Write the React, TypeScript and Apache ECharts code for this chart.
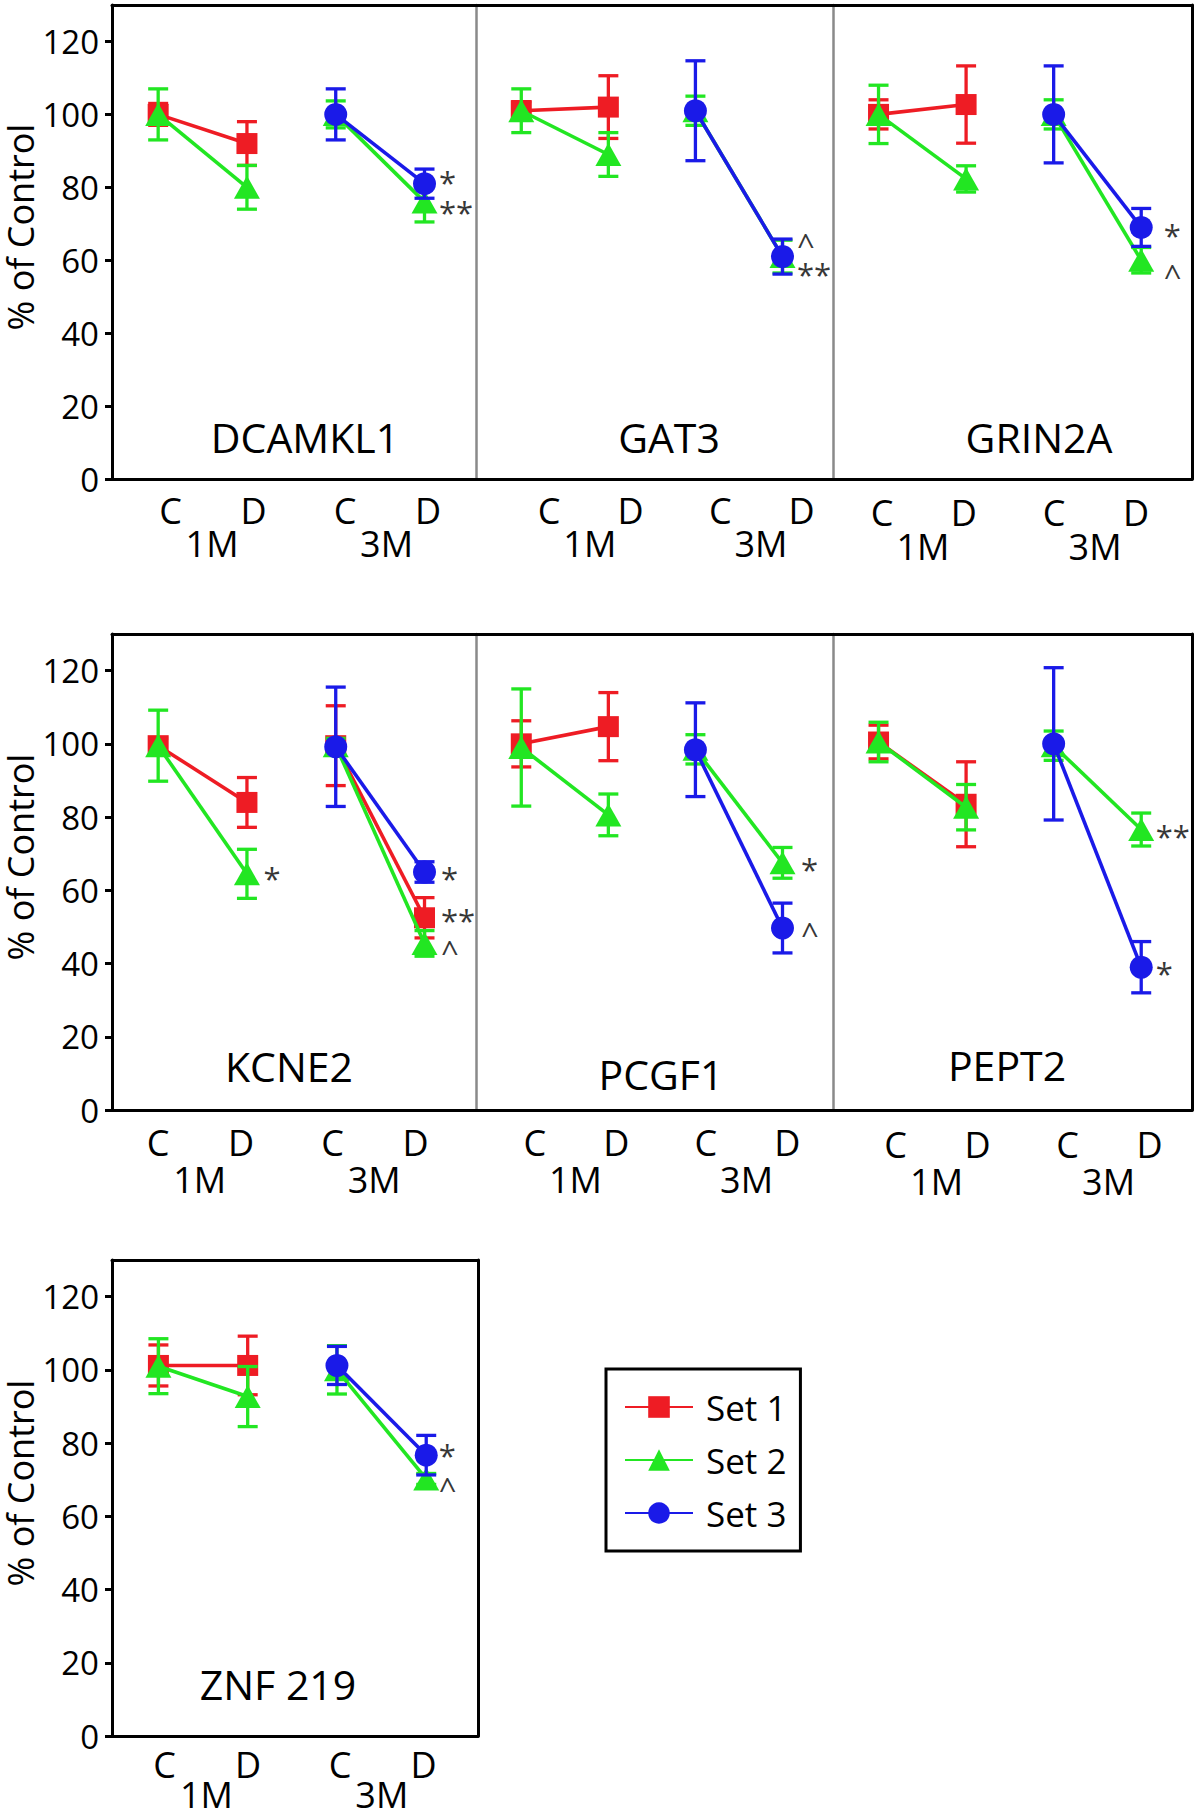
import React, { useEffect, useRef } from 'react';
import * as echarts from 'echarts';

const FONT = "'Open Sans', 'Noto Sans', 'DejaVu Sans', sans-serif";

const SET_NAMES = ['Set 1', 'Set 2', 'Set 3'];
const SET_COLORS = ['#ee1c24', '#22e622', '#1a1ae8'];
const SET_SYMBOLS = ['rect', 'triangle', 'circle'];
const SET_SYMBOL_SIZES = [[21, 21], [26, 23], [23, 23]];

const POINT_LABELS = ['C', 'D', 'C', 'D'];
const MONTH_LABELS = ['1M', '3M'];
const Y_TICKS = [0, 20, 40, 60, 80, 100, 120];
const Y_MAX = 130;
const Y_AXIS_TITLE = '% of Control';

const GENES = ['DCAMKL1', 'GAT3', 'GRIN2A', 'KCNE2', 'PCGF1', 'PEPT2', 'ZNF 219'];

// rows: Set 1, Set 2, Set 3; columns: 1M C, 1M D, 3M C, 3M D
const DCAMKL1_MEAN = [[100, 92, null, null], [100, 80, 100, 76], [null, null, 100, 81]];
const DCAMKL1_ERR = [[3, 6, null, null], [7, 6, 3.7, 5.5], [null, null, 7, 4]];
const DCAMKL1_SIG = [[3, 83, '*'], [3, 75, '**']];

const GAT3_MEAN = [[101, 102, null, null], [101, 89, 101, 61], [null, null, 101, 61]];
const GAT3_ERR = [[2.5, 8.6, null, null], [6, 6, 4, 4.5], [null, null, 13.7, 4.8]];
const GAT3_SIG = [[3, 66, '^'], [3, 58, '**']];

const GRIN2A_MEAN = [[100, 102.7, null, null], [100, 82.3, 100, 60], [null, null, 100, 69]];
const GRIN2A_ERR = [[4, 10.6, null, null], [8, 3.6, 4, 3.5], [null, null, 13.3, 5.2]];
const GRIN2A_SIG = [[3, 68.7, '*'], [3, 57.5, '^']];

const KCNE2_MEAN = [[99.5, 84, 99.5, 52.5], [99.5, 64.5, 99.5, 45.5], [null, null, 99.2, 65]];
const KCNE2_ERR = [[2, 6.8, 10.9, 5.5], [9.7, 6.7, 2, 3.5], [null, null, 16.3, 2.8]];
const KCNE2_SIG = [[1, 65, '*'], [3, 65, '*'], [3, 53.5, '**'], [3, 45, '^']];

const PCGF1_MEAN = [[100, 104.7, null, null], [99, 80.6, 98.5, 67.5], [null, null, 98.4, 49.7]];
const PCGF1_ERR = [[6.3, 9.3, null, null], [16, 5.7, 4, 4.2], [null, null, 12.8, 6.8]];
const PCGF1_SIG = [[3, 67.5, '*'], [3, 50, '^']];

const PEPT2_MEAN = [[100.5, 83.5, null, null], [100.5, 82.7, 99.5, 76.6], [null, null, 100, 39]];
const PEPT2_ERR = [[4.6, 11.6, null, null], [5.4, 6.2, 4, 4.5], [null, null, 20.8, 7]];
const PEPT2_SIG = [[3, 76.6, '**'], [3, 39, '*']];

const ZNF219_MEAN = [[101.2, 101.2, null, null], [101, 92.7, 100, 70.2], [null, null, 101.2, 76.7]];
const ZNF219_ERR = [[5.6, 8, null, null], [7.5, 8.2, 6.6, 1.5], [null, null, 5.2, 5.4]];
const ZNF219_SIG = [[3, 78.5, '*'], [3, 69.5, '^']];

const MEANS = [DCAMKL1_MEAN, GAT3_MEAN, GRIN2A_MEAN, KCNE2_MEAN, PCGF1_MEAN, PEPT2_MEAN, ZNF219_MEAN];
const ERRS = [DCAMKL1_ERR, GAT3_ERR, GRIN2A_ERR, KCNE2_ERR, PCGF1_ERR, PEPT2_ERR, ZNF219_ERR];
const SIGS = [DCAMKL1_SIG, GAT3_SIG, GRIN2A_SIG, KCNE2_SIG, PCGF1_SIG, PEPT2_SIG, ZNF219_SIG];

// ---------- layout (positions & styles only) ----------
const X_MIN = -0.52;
const X_MAX = 3.58;
const LABEL_PATTERN = [0, -0.065, -0.035, -0.1];
const PANEL_LAYOUT = [
  { left: 112, width: 364, top: 5, height: 474, first: true, last: false, shift: 0.14, gx: 305, gy: 437, m1: 13, m2: 46, sd: 14 },
  { left: 476, width: 357, top: 5, height: 474, first: false, last: false, shift: 0.32, gx: 669, gy: 437, m1: 13, m2: 46, sd: 14 },
  { left: 833, width: 359, top: 5, height: 474, first: false, last: true, shift: 0.04, gx: 1039, gy: 437, m1: 15, m2: 49, sd: 22 },
  { left: 112, width: 364, top: 634, height: 476, first: true, last: false, shift: 0.0, gx: 289, gy: 1066, m1: 14, m2: 51, sd: 16 },
  { left: 476, width: 357, top: 634, height: 476, first: false, last: false, shift: 0.155, gx: 661, gy: 1074, m1: 14, m2: 51, sd: 18 },
  { left: 833, width: 359, top: 634, height: 476, first: false, last: true, shift: 0.195, gx: 1007, gy: 1065, m1: 16, m2: 53, sd: 14 },
  { left: 112, width: 366, top: 1260, height: 476, first: true, last: true, shift: 0.07, gx: 278, gy: 1684, m1: 10, m2: 40, sd: 12 },
];

function nearestIndex(arr: number[], v: number) {
  let best = 0;
  arr.forEach((a, i) => {
    if (Math.abs(a - v) < Math.abs(arr[best] - v)) best = i;
  });
  return best;
}

function buildOption() {
  const grid: any[] = [];
  const xAxis: any[] = [];
  const yAxis: any[] = [];
  const series: any[] = [];
  const graphic: any[] = [];

  PANEL_LAYOUT.forEach((L, p) => {
    grid.push({ left: L.left, top: L.top, width: L.width, height: L.height, containLabel: false, outerBoundsMode: 'none' });

    const labelPos = LABEL_PATTERN.map((d, i) => +(i + d + L.shift).toFixed(4));
    const monthPos = [(labelPos[0] + labelPos[1]) / 2, (labelPos[2] + labelPos[3]) / 2];
    const textBase = { fontSize: 36, fontFamily: FONT, color: '#000', lineHeight: 36 };

    const xIdx = xAxis.length;
    xAxis.push({
      gridIndex: p, type: 'value', min: X_MIN, max: X_MAX, position: 'bottom',
      axisLine: { show: true, onZero: false, lineStyle: { color: '#000', width: 3 } },
      axisTick: { show: false }, splitLine: { show: false },
      axisLabel: { ...textBase, show: true, margin: L.m1, customValues: labelPos, formatter: (v: number) => POINT_LABELS[nearestIndex(labelPos, v)] },
    });
    xAxis.push({
      gridIndex: p, type: 'value', min: X_MIN, max: X_MAX, position: 'bottom',
      axisLine: { show: false, onZero: false }, axisTick: { show: false }, splitLine: { show: false },
      axisLabel: { ...textBase, show: true, margin: L.m2, customValues: monthPos, formatter: (v: number) => MONTH_LABELS[nearestIndex(monthPos, v)] },
    });
    xAxis.push({
      gridIndex: p, type: 'value', min: X_MIN, max: X_MAX, position: 'top',
      axisLine: { show: true, onZero: false, lineStyle: { color: '#000', width: 3 } },
      axisTick: { show: false }, axisLabel: { show: false }, splitLine: { show: false },
    });

    const yIdx = yAxis.length;
    if (L.first) {
      yAxis.push({
        gridIndex: p, type: 'value', min: 0, max: Y_MAX, position: 'left',
        axisLine: { show: true, onZero: false, lineStyle: { color: '#000', width: 3 } },
        axisTick: { show: true, inside: false, length: 7, customValues: Y_TICKS, lineStyle: { color: '#000', width: 3 } },
        axisLabel: { show: true, customValues: Y_TICKS, fontSize: 33, fontFamily: FONT, color: '#000', margin: 13 },
        splitLine: { show: false },
        name: Y_AXIS_TITLE, nameLocation: 'middle', nameGap: 65,
        nameTextStyle: { fontSize: 36, lineHeight: 36, fontFamily: FONT, color: '#000', padding: [0, 0, 0, 30] },
      });
    } else {
      yAxis.push({
        gridIndex: p, type: 'value', min: 0, max: Y_MAX, position: 'left',
        axisLine: { show: true, onZero: false, lineStyle: { color: '#8a8a8a', width: 2.5 } },
        axisTick: { show: false }, axisLabel: { show: false }, splitLine: { show: false },
      });
    }
    if (L.last) {
      yAxis.push({
        gridIndex: p, type: 'value', min: 0, max: Y_MAX, position: 'right',
        axisLine: { show: true, onZero: false, lineStyle: { color: '#000', width: 3 } },
        axisTick: { show: false }, axisLabel: { show: false }, splitLine: { show: false },
      });
    }

    const means = MEANS[p];
    const errs = ERRS[p];
    means.forEach((vals, s) => {
      const color = SET_COLORS[s];
      const ebData: any[] = [];
      vals.forEach((v, i) => {
        const e = errs[s][i];
        if (v != null && e != null) ebData.push([i, v - e, v + e]);
      });
      series.push({
        type: 'custom', coordinateSystem: 'cartesian2d', xAxisIndex: xIdx, yAxisIndex: yIdx,
        z: 2 + s * 2, silent: true,
        encode: { x: 0, y: [1, 2] },
        data: ebData,
        renderItem: (params: any, api: any) => {
          const x = api.value(0);
          const a = api.coord([x, api.value(1)]);
          const b = api.coord([x, api.value(2)]);
          const hw = 10;
          const style = { stroke: color, lineWidth: 3.3 };
          return {
            type: 'group',
            children: [
              { type: 'line', shape: { x1: a[0], y1: a[1], x2: b[0], y2: b[1] }, style },
              { type: 'line', shape: { x1: a[0] - hw, y1: a[1], x2: a[0] + hw, y2: a[1] }, style },
              { type: 'line', shape: { x1: b[0] - hw, y1: b[1], x2: b[0] + hw, y2: b[1] }, style },
            ],
          };
        },
      });
      [[0, 1], [2, 3]].forEach((seg) => {
        const data = seg.filter((i) => vals[i] != null).map((i) => [i, vals[i]]);
        if (!data.length) return;
        series.push({
          type: 'line', name: SET_NAMES[s], xAxisIndex: xIdx, yAxisIndex: yIdx, z: 3 + s * 2,
          data, symbol: SET_SYMBOLS[s], symbolSize: SET_SYMBOL_SIZES[s],
          lineStyle: { color, width: 3.6 }, itemStyle: { color },
          emphasis: { disabled: true }, silent: true,
        });
      });
    });

    series.push({
      type: 'scatter', xAxisIndex: xIdx, yAxisIndex: yIdx, z: 10, silent: true,
      symbolSize: 1, itemStyle: { color: 'rgba(0,0,0,0)' },
      data: SIGS[p].map((d) => [d[0], d[1], d[2]]),
      label: {
        show: true, position: 'right', distance: L.sd, offset: [0, 6],
        formatter: (prm: any) => prm.data[2],
        fontSize: 31, lineHeight: 20, fontFamily: FONT, color: '#000',
      },
    });

    graphic.push({
      type: 'text', x: L.gx, y: L.gy, z: 20,
      style: { text: GENES[p], font: `41px ${FONT}`, fill: '#000', textAlign: 'center', textVerticalAlign: 'middle' },
    });
  });

  return {
    animation: false,
    backgroundColor: '#fff',
    grid, xAxis, yAxis, series, graphic,
    legend: {
      data: SET_NAMES, orient: 'vertical', left: 606, top: 1369,
      itemWidth: 68, itemHeight: 27, itemGap: 11,
      padding: [17, 14, 17, 18], borderColor: '#000', borderWidth: 3,
      selectedMode: false,
      textStyle: { fontSize: 35, fontFamily: FONT, color: '#000', lineHeight: 42, padding: [0, 0, 0, 8] },
    },
  };
}

export default function App() {
  const ref = useRef<HTMLDivElement>(null);
  useEffect(() => {
    const chart = echarts.init(ref.current!, null, { renderer: 'svg' });
    chart.setOption(buildOption() as any);
    return () => chart.dispose();
  }, []);
  return (
    <div
      ref={ref}
      style={{ position: 'absolute', left: 0, top: 0, width: 1200, height: 1815, background: '#fff' }}
    />
  );
}
